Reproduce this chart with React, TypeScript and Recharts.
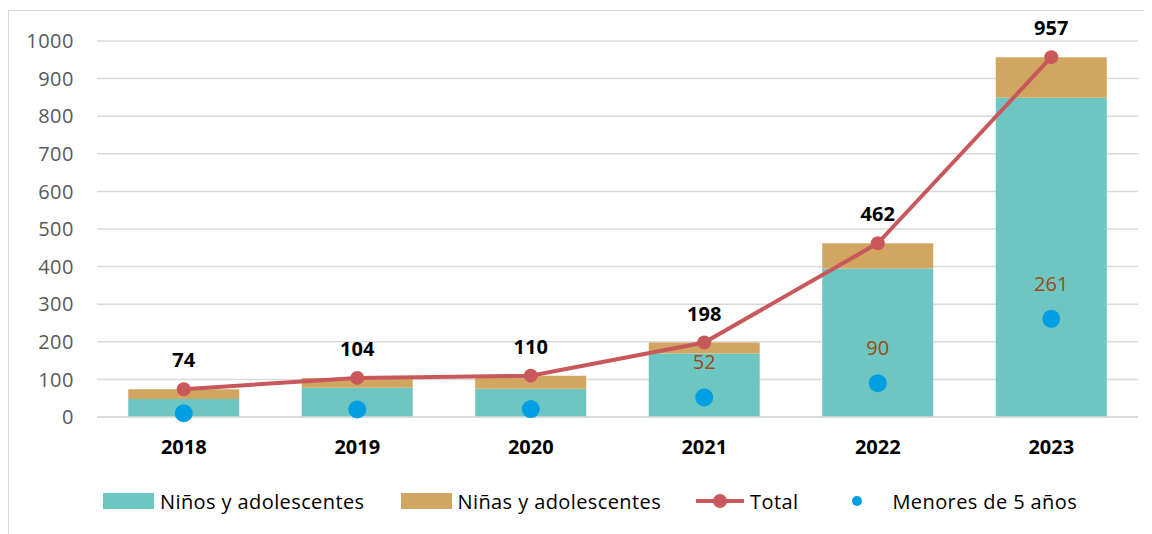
import React from "react";
import {
  ComposedChart,
  Bar,
  Line,
  Scatter,
  XAxis,
  YAxis,
  CartesianGrid,
  LabelList,
} from "recharts";

const anios = ["2018", "2019", "2020", "2021", "2022", "2023"];
const ninos = [48, 78, 75, 169, 395, 849];
const ninas = [26, 26, 35, 29, 67, 108];
const total = [74, 104, 110, 198, 462, 957];
const menores = [10, 20, 21, 52, 90, 261];
const menoresConEtiqueta = [false, false, false, true, true, true];
const yTicks = [0, 100, 200, 300, 400, 500, 600, 700, 800, 900, 1000];

const data = anios.map((anio, i) => ({
  anio,
  ninos: ninos[i],
  ninas: ninas[i],
  total: total[i],
  menores: menores[i],
  etiqueta: menoresConEtiqueta[i] ? menores[i] : null,
}));

const FONT = "'Open Sans', sans-serif";
const TEAL = "#6EC6C2";
const TAN = "#D0A661";
const RED = "#C9585C";
const BLUE = "#009FE3";
const BROWN = "#9A4B16";

const TotalLabel = (props: any) => {
  const { x, y, value } = props;
  return (
    <text
      x={x}
      y={y - 22}
      textAnchor="middle"
      fontFamily={FONT}
      fontSize={20}
      fontWeight="bold"
      fill="#000"
    >
      {value}
    </text>
  );
};

const MenoresLabel = (props: any) => {
  const { x, y, width, height, value } = props;
  if (value == null) return null;
  const cx = x + (width || 0) / 2;
  const cy = y + (height || 0) / 2;
  return (
    <text
      x={cx}
      y={cy - 28}
      textAnchor="middle"
      fontFamily={FONT}
      fontSize={20}
      fill={BROWN}
    >
      {value}
    </text>
  );
};

const Punto = (props: any) => (
  <circle cx={props.cx} cy={props.cy} r={9} fill={BLUE} />
);

const legendText: React.CSSProperties = {
  fontFamily: FONT,
  fontSize: 20,
  letterSpacing: 0.4,
  color: "#000",
};

const App: React.FC = () => {
  return (
    <div
      style={{
        position: "relative",
        width: 1144,
        height: 524,
        marginTop: 2,
        borderTop: "1px solid #d9d9d9",
        borderLeft: "1px solid #d9d9d9",
        borderRight: "1px solid #d9d9d9",
        boxSizing: "border-box",
        background: "#fff",
      }}
    >
      <ComposedChart
        width={1142}
        height={470}
        data={data}
        margin={{ top: 30, right: 13, left: 0, bottom: 0 }}
        barCategoryGap="18%"
      >
        <CartesianGrid vertical={false} stroke="#d9d9d9" strokeWidth={1.5} />
        <XAxis
          dataKey="anio"
          height={64}
          axisLine={{ stroke: "#d9d9d9", strokeWidth: 1.5 }}
          tickLine={false}
          tickMargin={17}
          tick={{ fontFamily: FONT, fontSize: 20, fontWeight: "bold", fill: "#000" }}
        />
        <YAxis
          width={88}
          domain={[0, 1000]}
          ticks={yTicks}
          axisLine={false}
          tickLine={false}
          tickMargin={17}
          tick={{ fontFamily: FONT, fontSize: 20, letterSpacing: 0.5, fill: "#595959" }}
        />
        <Bar dataKey="ninos" stackId="a" fill={TEAL} isAnimationActive={false} />
        <Bar dataKey="ninas" stackId="a" fill={TAN} isAnimationActive={false} />
        <Line
          dataKey="total"
          stroke={RED}
          strokeWidth={4}
          dot={{ r: 7, fill: RED, stroke: RED, strokeWidth: 0 }}
          isAnimationActive={false}
        >
          <LabelList dataKey="total" content={TotalLabel} />
        </Line>
        <Scatter dataKey="menores" shape={Punto} isAnimationActive={false}>
          <LabelList dataKey="etiqueta" content={MenoresLabel} />
        </Scatter>
      </ComposedChart>
      <div
        style={{
          position: "absolute",
          left: 94,
          top: 478,
          display: "flex",
          alignItems: "center",
          height: 24,
        }}
      >
        <div style={{ display: "flex", alignItems: "center", marginRight: 36 }}>
          <span style={{ width: 51, height: 16, background: TEAL, marginRight: 6 }} />
          <span style={legendText}>Niños y adolescentes</span>
        </div>
        <div style={{ display: "flex", alignItems: "center", marginRight: 35 }}>
          <span style={{ width: 51, height: 16, background: TAN, marginRight: 6 }} />
          <span style={legendText}>Niñas y adolescentes</span>
        </div>
        <div style={{ display: "flex", alignItems: "center", marginRight: 53 }}>
          <svg width={48} height={16} style={{ marginRight: 6 }}>
            <line x1={0} y1={8} x2={48} y2={8} stroke={RED} strokeWidth={4} />
            <circle cx={24} cy={8} r={7} fill={RED} />
          </svg>
          <span style={legendText}>Total</span>
        </div>
        <div style={{ display: "flex", alignItems: "center" }}>
          <svg width={12} height={16} style={{ marginRight: 29 }}>
            <circle cx={6} cy={8} r={5} fill={BLUE} />
          </svg>
          <span style={legendText}>Menores de 5 años</span>
        </div>
      </div>
    </div>
  );
};

export default App;
